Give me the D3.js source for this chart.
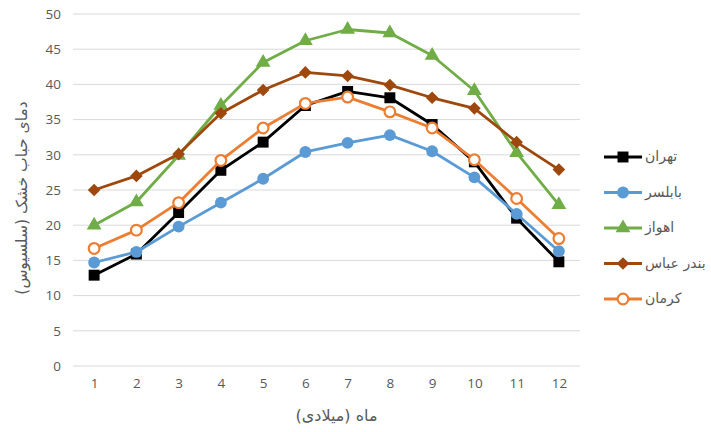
<!DOCTYPE html>
<html>
<head>
<meta charset="utf-8">
<script src="https://cdn.jsdelivr.net/npm/d3@7"></script>
<style>
  body { margin: 0; background: #fff; }
  text { font-family: "Open Sans", "Liberation Sans", sans-serif; }
  .fa { font-family: "DejaVu Sans", "Noto Sans", sans-serif; }
</style>
</head>
<body>
<svg id="chart"></svg>
<script>
// داده‌ها
var months = [1, 2, 3, 4, 5, 6, 7, 8, 9, 10, 11, 12];
var yTicks = [0, 5, 10, 15, 20, 25, 30, 35, 40, 45, 50];
var seriesNames = ["تهران", "بابلسر", "اهواز", "بندر عباس", "کرمان"];
var tehran = [12.9, 15.9, 21.8, 27.8, 31.8, 37.0, 39.0, 38.1, 34.3, 29.0, 21.0, 14.8];
var babolsar = [14.7, 16.2, 19.8, 23.2, 26.6, 30.4, 31.7, 32.8, 30.5, 26.8, 21.6, 16.3];
var ahvaz = [20.0, 23.3, 29.9, 37.0, 43.1, 46.2, 47.8, 47.3, 44.1, 39.1, 30.3, 22.9];
var bandarAbbas = [25.0, 27.0, 30.1, 35.9, 39.2, 41.7, 41.2, 39.9, 38.1, 36.6, 31.8, 27.9];
var kerman = [16.7, 19.3, 23.2, 29.2, 33.8, 37.3, 38.2, 36.1, 33.8, 29.3, 23.8, 18.1];

var width = 711, height = 432;
var margin = {top: 14, right: 131, bottom: 66, left: 73};

var svg = d3.select("#chart")
    .attr("width", width)
    .attr("height", height);

var x = d3.scalePoint()
    .domain(months)
    .range([margin.left, width - margin.right])
    .padding(0.5);

var y = d3.scaleLinear()
    .domain([0, 50])
    .range([height - margin.bottom, margin.top]);

// خطوط شبکه
svg.append("g")
    .selectAll("line")
    .data(yTicks)
    .join("line")
    .attr("x1", margin.left)
    .attr("x2", width - margin.right)
    .attr("y1", d => y(d))
    .attr("y2", d => y(d))
    .attr("stroke", "#d9d9d9")
    .attr("stroke-width", 1);

// محور y
var yAxis = svg.append("g")
    .attr("transform", `translate(${margin.left},0)`)
    .call(d3.axisLeft(y).tickValues(yTicks).tickSize(0).tickPadding(12));
yAxis.select(".domain").remove();
yAxis.selectAll("text").attr("fill", "#595959").style("font-size", "13.5px");

// محور x
var xAxis = svg.append("g")
    .attr("transform", `translate(0,${height - margin.bottom})`)
    .call(d3.axisBottom(x).tickSize(0).tickPadding(12));
xAxis.select(".domain").remove();
xAxis.selectAll("text").attr("fill", "#595959").style("font-size", "13.5px");

// عنوان محورها
svg.append("text")
    .attr("class", "fa")
    .attr("transform", `translate(22,${(margin.top + height - margin.bottom) / 2 + 8}) rotate(-90)`)
    .attr("text-anchor", "middle")
    .attr("dominant-baseline", "middle")
    .attr("fill", "#595959")
    .style("font-size", "15.5px")
    .text("دمای حباب خشک (سلسیوس)");

svg.append("text")
    .attr("class", "fa")
    .attr("x", (margin.left + width - margin.right) / 2 + 10)
    .attr("y", 421)
    .attr("text-anchor", "middle")
    .attr("fill", "#595959")
    .style("font-size", "16px")
    .text("ماه (میلادی)");

var series = [
    {name: seriesNames[0], values: tehran, color: "#000000", marker: "square"},
    {name: seriesNames[1], values: babolsar, color: "#5b9bd5", marker: "circle"},
    {name: seriesNames[2], values: ahvaz, color: "#70ad47", marker: "triangle"},
    {name: seriesNames[3], values: bandarAbbas, color: "#9e480e", marker: "diamond"},
    {name: seriesNames[4], values: kerman, color: "#ed7d31", marker: "open"}
];

// لوزی پهن (مربع چرخیده)
var wideDiamond = {
    draw: function(ctx, size) {
        var r = Math.sqrt(size / 2);
        ctx.moveTo(0, -r);
        ctx.lineTo(r, 0);
        ctx.lineTo(0, r);
        ctx.lineTo(-r, 0);
        ctx.closePath();
    }
};

var symbols = {
    square: d3.symbol().type(d3.symbolSquare).size(120),
    circle: d3.symbol().type(d3.symbolCircle).size(110),
    triangle: d3.symbol().type(d3.symbolTriangle).size(95),
    diamond: d3.symbol().type(wideDiamond).size(80),
    open: d3.symbol().type(d3.symbolCircle).size(90)
};

function drawMarker(g, s) {
    g.attr("d", symbols[s.marker]())
        .attr("fill", s.marker == "open" ? "#fff" : s.color)
        .attr("stroke", s.color)
        .attr("stroke-width", s.marker == "open" ? 2.2 : 0);
}

var line = d3.line()
    .x((d, i) => x(months[i]))
    .y(d => y(d));

series.forEach(s => {
    svg.append("path")
        .datum(s.values)
        .attr("fill", "none")
        .attr("stroke", s.color)
        .attr("stroke-width", 2.8)
        .attr("stroke-linejoin", "round")
        .attr("d", line);

    svg.append("g")
        .selectAll("path")
        .data(s.values)
        .join("path")
        .attr("transform", (d, i) => `translate(${x(months[i])},${y(d)})`)
        .call(g => drawMarker(g, s));
});

// راهنما
var legend = svg.append("g");
series.forEach((s, i) => {
    var ly = 157 + i * 35.5;
    legend.append("line")
        .attr("x1", 604).attr("x2", 642)
        .attr("y1", ly).attr("y2", ly)
        .attr("stroke", s.color)
        .attr("stroke-width", 2.8);
    legend.append("path")
        .attr("transform", `translate(623,${ly})`)
        .call(g => drawMarker(g, s));
    legend.append("text")
        .attr("class", "fa")
        .attr("x", 645)
        .attr("y", ly)
        .attr("dominant-baseline", "middle")
        .attr("fill", "#595959")
        .style("font-size", "14px")
        .text(s.name);
});
</script>
</body>
</html>
